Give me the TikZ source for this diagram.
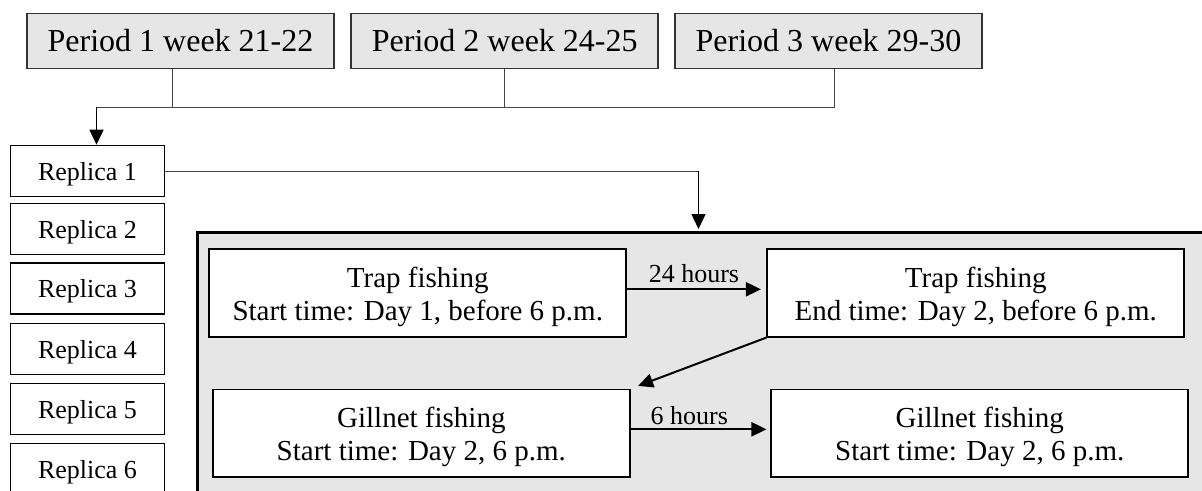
\documentclass[tikz,border=0pt]{standalone}
\usepackage{fontspec}
\setmainfont{Liberation Serif}
\usetikzlibrary{arrows.meta,calc}
\definecolor{boxfill}{HTML}{E6E6E6}
\definecolor{linegray}{HTML}{444444}
\newcommand{\topgap}{\rule{0pt}{28pt}}
\begin{document}
\begin{tikzpicture}[x=1pt,y=-1pt,
 period/.style={draw=black!80, line width=1.6pt, fill=boxfill, minimum width=307pt, minimum height=55pt, inner sep=0pt, font=\fontsize{32}{38}\selectfont},
 replica/.style={draw=black, line width=1.6pt, fill=white, minimum width=154pt, minimum height=51pt, inner sep=0pt, text depth=0pt, font=\fontsize{26}{31}\selectfont},
 task/.style={draw=black, line width=1.6pt, fill=white, minimum width=417pt, minimum height=87.5pt, inner sep=0pt, align=center, font=\fontsize{29}{32.7}\selectfont},
 bigbox/.style={draw=black, line width=3.5pt, fill=boxfill, minimum width=1100pt, minimum height=300pt, inner sep=0pt, anchor=north west},
 conn/.style={draw=linegray, line width=1pt},
 arr/.style={draw=black, line width=2pt, -{Triangle[length=15pt,width=14pt]}},
 tharr/.style={draw=black, line width=1.5pt, -{Triangle[length=15pt,width=14pt]}},
 lbl/.style={font=\fontsize{26}{31}\selectfont, inner sep=0pt, anchor=base}
]
\useasboundingbox (0,0) rectangle (1202,490);
\clip (0,0) rectangle (1202,490);

% big grey frame (continues beyond the picture)
\node[bigbox] (big) at (195.5,230.5) {};

% periods
\node[period] (p1) at (180.5,41) {Period 1 week 21-22};
\node[period] (p2) at (504.75,41) {Period 2 week 24-25};
\node[period] (p3) at (828.5,41) {Period 3 week 29-30};

% replicas
\node[replica] (r1) at (87.5,171) {Replica 1};
\node[replica] (r2) at (87.5,229) {Replica 2};
\node[replica] (r3) at (87.5,288.5) {Replica 3};
\node[replica] (r4) at (87.5,349) {Replica 4};
\node[replica] (r5) at (87.5,409) {Replica 5};
\node[replica] (r6) at (87.5,469) {Replica 6};

% junction of the periods
\coordinate (jl) at (96.5,107);
\coordinate (j1) at (172,107);
\coordinate (j2) at (504,107);
\coordinate (j3) at (834.5,107);
\draw[conn] (p1.south -| j1) -- (j1);
\draw[conn] (p2.south -| j2) -- (j2);
\draw[conn] (p3.south -| j3) -- (j3);
\draw[conn] (jl) -- (j3);
\draw[tharr] (jl) -- (r1.north -| jl);

% replica 1 to the frame
\coordinate (k) at (698.5,171);
\draw[conn] (r1.east) -- (k);
\draw[tharr] (k) -- ([yshift=1.5pt]big.north -| k);

% tasks
\node[task] (t1) at (417.75,293) {\topgap Trap fishing\\Start time: Day 1, before 6 p.m.};
\node[task] (t2) at (975.75,293) {\topgap Trap fishing\\End time: Day 2, before 6 p.m.};
\node[task] (g1) at (421.3,433.3) {\topgap Gillnet fishing\\Start time: Day 2, 6 p.m.};
\node[task] (g2) at (979.75,433.3) {\topgap Gillnet fishing\\Start time: Day 2, 6 p.m.};

\draw[arr, shorten >=5.5pt] ([yshift=3.7pt]t1.east) -- ([yshift=3.7pt]t2.west)
  node[lbl, pos=0.48, yshift=7pt] {24 hours};
\draw[arr, shorten >=8pt] (t2.south west) -- (g1.north east);
\draw[arr, shorten >=4pt] ([yshift=4pt]g1.east) -- ([yshift=4pt]g2.west)
  node[lbl, pos=0.42, yshift=5.3pt] {6 hours};
\end{tikzpicture}
\end{document}
